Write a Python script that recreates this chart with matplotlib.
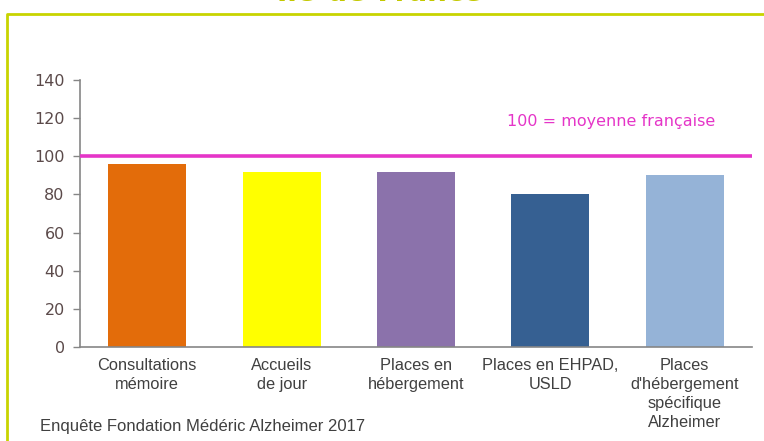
import matplotlib

matplotlib.use("Agg")
import matplotlib.pyplot as plt
from matplotlib.lines import Line2D

categories = [
    "Consultations\nmémoire",
    "Accueils\nde jour",
    "Places en\nhébergement",
    "Places en EHPAD,\nUSLD",
    "Places\nd'hébergement\nspécifique\nAlzheimer",
]
values = [96, 92, 92, 80, 90]
reference = 100
colors = ["#E36C0A", "#FFFF00", "#8B72AB", "#366092", "#95B3D7"]
yticks = [0, 20, 40, 60, 80, 100, 120, 140]

narrow = ["Liberation Sans", "DejaVu Sans"]
regular = ["DejaVu Sans"]

fig = plt.figure(figsize=(7.64, 4.41), dpi=100)
ax = fig.add_axes([80 / 764, 1 - 347 / 441, 672 / 764, 267 / 441])

x = range(len(categories))
ax.bar(x, values, width=0.58, color=colors, zorder=2)
ax.axhline(reference, color="#E535C8", linewidth=2.6, zorder=3)

ax.set_xlim(-0.5, len(categories) - 0.5)
ax.set_ylim(0, 140)
ax.set_yticks(yticks)
ax.set_yticklabels([str(t) for t in yticks], family=regular, fontsize=11.5,
                   color="#5B4A4A")
ax.set_xticks(list(x))
ax.set_xticklabels(categories, family=narrow, fontsize=11.8, color="#404040",
                   linespacing=1.32)
ax.tick_params(axis="x", length=0, pad=8)
ax.tick_params(axis="y", length=5, width=1, color="#868686", pad=6)

for side in ["top", "right"]:
    ax.spines[side].set_visible(False)
for side in ["left", "bottom"]:
    ax.spines[side].set_color("#868686")
    ax.spines[side].set_linewidth(1.2)

ax.text(3.45, 118, "100 = moyenne française", color="#E535C8", fontsize=11.5,
        family=regular, ha="center", va="center")

fig.text(40 / 764, 1 - 426 / 441, "Enquête Fondation Médéric Alzheimer 2017",
         family=narrow, fontsize=12, color="#404040", ha="left", va="center")

# cropped title and frame of the original slide
fig.text(380 / 764, 1 - 1 / 441, "Île-de-France", fontsize=20, fontweight="bold",
         color="#C3C800", ha="center", va="baseline")
fig.add_artist(Line2D([7 / 764, 7 / 764, 1.01], [-0.01, 1 - 14 / 441, 1 - 14 / 441],
                      transform=fig.transFigure, color="#C8D400", linewidth=2))

fig.savefig("out.png", dpi=100)
